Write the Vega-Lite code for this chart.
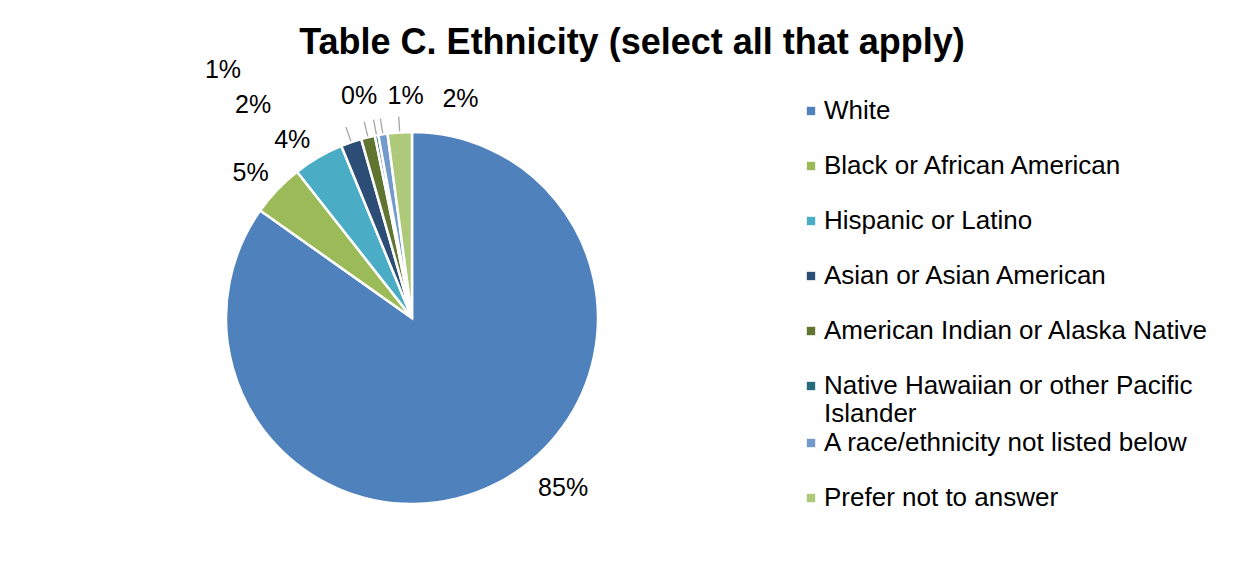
{
  "$schema": "https://vega.github.io/schema/vega-lite/v6.json",
  "width": 824,
  "height": 436,
  "autosize": {"type": "none"},
  "padding": {"left": 0, "top": 100, "right": 428, "bottom": 25},
  "background": "white",
  "config": {"view": {"stroke": null}, "font": "Liberation Sans"},
  "title": {
    "text": "Table C. Ethnicity (select all that apply)",
    "font": "Liberation Sans",
    "fontSize": 36,
    "fontWeight": "bold",
    "color": "black",
    "anchor": "middle",
    "frame": "group",
    "dx": 220,
    "offset": -38,
    "baseline": "alphabetic"
  },
  "data": {
    "values": [
      {"group": "White", "share": 0.848, "rank": 1},
      {"group": "Black or African American", "share": 0.046, "rank": 2},
      {"group": "Hispanic or Latino", "share": 0.044, "rank": 3},
      {"group": "Asian or Asian American", "share": 0.018, "rank": 4},
      {"group": "American Indian or Alaska Native", "share": 0.012, "rank": 5},
      {"group": "Native Hawaiian or other Pacific Islander", "share": 0.003, "rank": 6},
      {"group": "A race/ethnicity not listed below", "share": 0.008, "rank": 7},
      {"group": "Prefer not to answer", "share": 0.021, "rank": 8}
    ]
  },
  "encoding": {
    "theta": {"field": "share", "type": "quantitative", "stack": true},
    "order": {"field": "rank", "type": "quantitative", "sort": "ascending"},
    "color": {
      "field": "group",
      "type": "nominal",
      "sort": null,
      "scale": {
        "domain": ["White", "Black or African American", "Hispanic or Latino", "Asian or Asian American", "American Indian or Alaska Native", "Native Hawaiian or other Pacific Islander", "A race/ethnicity not listed below", "Prefer not to answer"],
        "range": ["#4F81BD", "#9BBB59", "#4BACC6", "#2C4D75", "#5F7530", "#276A7C", "#729ACA", "#AFC97A"]
      },
      "legend": {
        "values": ["White", "Black or African American", "Hispanic or Latino", "Asian or Asian American", "American Indian or Alaska Native", "Native Hawaiian or other Pacific Islander"],
        "orient": "none",
        "legendX": 798,
        "legendY": -2,
        "title": null,
        "padding": 0,
        "symbolType": "square",
        "symbolSize": 70,
        "symbolStrokeWidth": 0,
        "labelFont": "Liberation Sans",
        "labelFontSize": 26,
        "labelColor": "black",
        "labelOffset": 0,
        "labelLimit": 600,
        "rowPadding": 29,
        "labelExpr": "datum.label == 'Native Hawaiian or other Pacific Islander' ? ['Native Hawaiian or other Pacific', 'Islander'] : datum.label",
        "encode": {"labels": {"lineHeight": {"value": 27}}}
      }
    }
  },
  "layer": [
    {"mark": {"type": "arc", "outerRadius": 186, "stroke": "white", "strokeWidth": 2.5}},
    {
      "mark": {"type": "arc", "outerRadius": 202, "innerRadius": 187, "padAngle": 3.1416, "fillOpacity": 0, "stroke": "#A6A6A6", "strokeWidth": 1.3},
      "encoding": {
        "strokeOpacity": {"condition": {"test": "indexof(['White', 'Black or African American', 'Hispanic or Latino'], datum.group) >= 0", "value": 0}, "value": 1}
      }
    },
    {
      "transform": [{"filter": {"field": "group", "oneOf": ["A race/ethnicity not listed below", "Prefer not to answer"]}}],
      "mark": {"type": "text", "fontSize": 1},
      "encoding": {
        "text": {"value": ""},
        "fill": {
          "field": "group",
          "type": "nominal",
          "sort": null,
          "scale": {"domain": ["A race/ethnicity not listed below", "Prefer not to answer"], "range": ["#729ACA", "#AFC97A"]},
          "legend": {
            "orient": "none",
            "legendX": 798,
            "legendY": 330,
            "title": null,
            "padding": 0,
            "symbolType": "square",
            "symbolSize": 70,
            "symbolStrokeWidth": 0,
            "labelFont": "Liberation Sans",
            "labelFontSize": 26,
            "labelColor": "black",
            "labelOffset": 0,
            "labelLimit": 600,
            "rowPadding": 29
          }
        }
      }
    },
    {
      "mark": {"type": "text", "radius": 220, "dx": 50, "dy": -25, "fontSize": 25, "font": "Liberation Sans", "align": "center", "baseline": "middle"},
      "encoding": {"color": {"value": "black"}, "detail": {"field": "group"}, "text": {"condition": {"test": "datum.group === 'White'", "field": "share", "type": "quantitative", "format": ".0%"}, "value": ""}}
    },
    {
      "mark": {"type": "text", "radius": 220, "dx": -2, "dy": 7, "fontSize": 25, "font": "Liberation Sans", "align": "center", "baseline": "middle"},
      "encoding": {"color": {"value": "black"}, "detail": {"field": "group"}, "text": {"condition": {"test": "datum.group === 'Black or African American'", "field": "share", "type": "quantitative", "format": ".0%"}, "value": ""}}
    },
    {
      "mark": {"type": "text", "radius": 220, "dx": -9, "dy": 12, "fontSize": 25, "font": "Liberation Sans", "align": "center", "baseline": "middle"},
      "encoding": {"color": {"value": "black"}, "detail": {"field": "group"}, "text": {"condition": {"test": "datum.group === 'Hispanic or Latino'", "field": "share", "type": "quantitative", "format": ".0%"}, "value": ""}}
    },
    {
      "mark": {"type": "text", "radius": 220, "dx": -87, "dy": -5, "fontSize": 25, "font": "Liberation Sans", "align": "center", "baseline": "middle"},
      "encoding": {"color": {"value": "black"}, "detail": {"field": "group"}, "text": {"condition": {"test": "datum.group === 'Asian or Asian American'", "field": "share", "type": "quantitative", "format": ".0%"}, "value": ""}}
    },
    {
      "mark": {"type": "text", "radius": 220, "dx": -137, "dy": -34, "fontSize": 25, "font": "Liberation Sans", "align": "center", "baseline": "middle"},
      "encoding": {"color": {"value": "black"}, "detail": {"field": "group"}, "text": {"condition": {"test": "datum.group === 'American Indian or Alaska Native'", "field": "share", "type": "quantitative", "format": ".0%"}, "value": ""}}
    },
    {
      "mark": {"type": "text", "radius": 220, "dx": -11, "dy": -6, "fontSize": 25, "font": "Liberation Sans", "align": "center", "baseline": "middle"},
      "encoding": {"color": {"value": "black"}, "detail": {"field": "group"}, "text": {"condition": {"test": "datum.group === 'Native Hawaiian or other Pacific Islander'", "field": "share", "type": "quantitative", "format": ".0%"}, "value": ""}}
    },
    {
      "mark": {"type": "text", "radius": 220, "dx": 28, "dy": -5, "fontSize": 25, "font": "Liberation Sans", "align": "center", "baseline": "middle"},
      "encoding": {"color": {"value": "black"}, "detail": {"field": "group"}, "text": {"condition": {"test": "datum.group === 'A race/ethnicity not listed below'", "field": "share", "type": "quantitative", "format": ".0%"}, "value": ""}}
    },
    {
      "mark": {"type": "text", "radius": 220, "dx": 63, "dy": 1, "fontSize": 25, "font": "Liberation Sans", "align": "center", "baseline": "middle"},
      "encoding": {"color": {"value": "black"}, "detail": {"field": "group"}, "text": {"condition": {"test": "datum.group === 'Prefer not to answer'", "field": "share", "type": "quantitative", "format": ".0%"}, "value": ""}}
    }
  ]
}
